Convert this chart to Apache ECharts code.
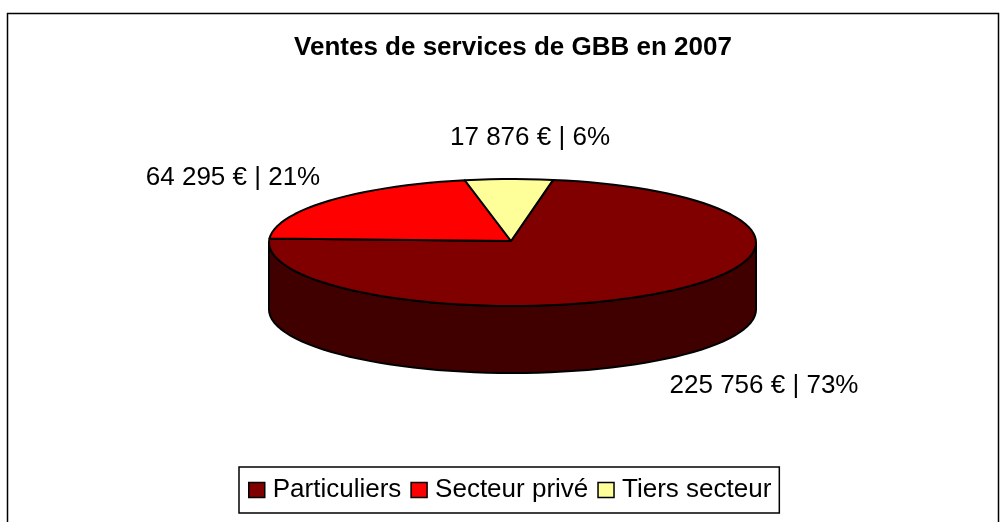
<!DOCTYPE html>
<html><head><meta charset="utf-8">
<style>html,body{margin:0;padding:0;background:#fff}#c{width:1005px;height:522px}</style>
<script src="https://cdn.jsdelivr.net/npm/echarts@6/dist/echarts.min.js"></script>
</head><body><div id="c"></div>
<script>
var titleText = 'Ventes de services de GBB en 2007';
var categories = ['Particuliers', 'Secteur privé', 'Tiers secteur'];
var values = [225756, 64295, 17876];
var labels = ['225 756 € | 73%', '64 295 € | 21%', '17 876 € | 6%'];
var colors = ['#800000', '#ff0000', '#ffff99'];
var sideColor = '#400000';
var labelPos = [[764, 386], [233, 178], [530, 138]];

var cx = 512.5, cy = 242.5, rx = 243.5, ry = 63.5, depth = 67, startDeg = 9.6;
var apex = [511, 241];
var total = values.reduce(function (a, b) { return a + b; }, 0);
function pt(deg, dy) {
  var t = deg * Math.PI / 180;
  return [cx + rx * Math.sin(t), cy - ry * Math.cos(t) + (dy || 0)];
}
function arc(a, b, dy) {
  var n = Math.max(2, Math.ceil(Math.abs(b - a) / 3)), out = [];
  for (var i = 0; i <= n; i++) out.push(pt(a + (b - a) * i / n, dy));
  return out;
}
var stroke = { stroke: '#000', lineWidth: 2, lineJoin: 'round' };
function makeSeries(idx) {
  var before = 0;
  for (var i = 0; i < idx; i++) before += values[i];
  var a0 = startDeg + before / total * 360;
  var a1 = a0 + values[idx] / total * 360;
  return {
    type: 'custom',
    name: categories[idx],
    coordinateSystem: 'none',
    silent: true,
    itemStyle: { color: colors[idx], borderColor: '#000', borderWidth: 1.5 },
    data: [values[idx]],
    renderItem: function () {
      var kids = [];
      var s0 = Math.max(a0, 90), s1 = Math.min(a1, 270);
      if (s1 > s0) {
        var side = arc(s0, s1, 0).concat(arc(s1, s0, depth));
        kids.push({ type: 'polygon', shape: { points: side },
          style: Object.assign({ fill: sideColor }, stroke) });
      }
      var top = [apex].concat(arc(a0, a1, 0));
      kids.push({ type: 'polygon', shape: { points: top },
        style: Object.assign({ fill: colors[idx] }, stroke) });
      kids.push({ type: 'text', style: {
        text: labels[idx], x: labelPos[idx][0], y: labelPos[idx][1],
        align: 'center', verticalAlign: 'middle',
        font: '26px "Liberation Sans"', fill: '#000' } });
      return { type: 'group', children: kids };
    }
  };
}
var chart = echarts.init(document.getElementById('c'), null, { renderer: 'canvas' });
chart.setOption({
  animation: false,
  backgroundColor: '#fff',
  title: { text: titleText, left: 508, top: 30, textAlign: 'center',
    textStyle: { fontFamily: 'Liberation Sans', fontWeight: 'bold', fontSize: 26, color: '#000' } },
  legend: {
    data: categories, left: 239, top: 467,
    orient: 'horizontal', padding: [10, 8, 10, 9], itemGap: 9,
    borderColor: '#000', borderWidth: 1.5, icon: 'rect',
    itemWidth: 16, itemHeight: 15, selectedMode: false,
    itemStyle: { borderColor: '#000', borderWidth: 1.5 },
    textStyle: { fontFamily: 'Liberation Sans', fontSize: 26, color: '#000', padding: [0, 0, 0, 3] }
  },
  graphic: [{ type: 'rect', silent: true, z: -1,
    shape: { x: 7.5, y: 13.5, width: 991, height: 530 },
    style: { fill: 'none', stroke: '#000', lineWidth: 1.5 } }],
  series: [0, 1, 2].map(makeSeries)
});
</script></body></html>
